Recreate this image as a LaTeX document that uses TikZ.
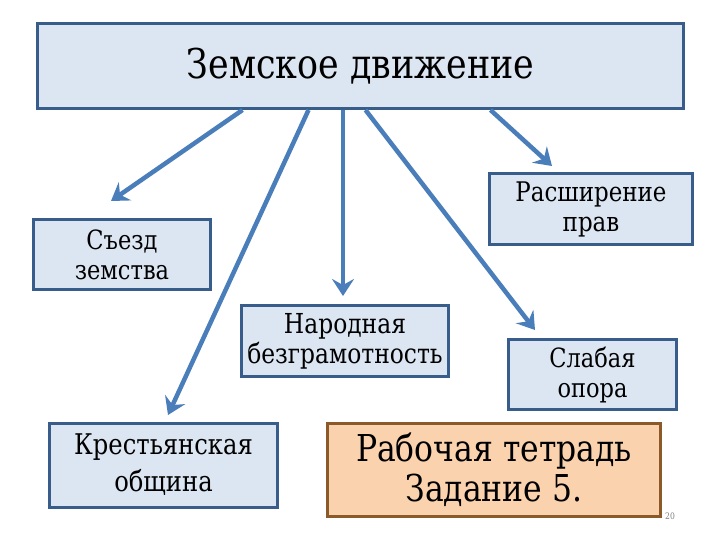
\documentclass[tikz,border=0pt]{standalone}
\usepackage{fontspec}
\setmainfont{DejaVu Serif}[FakeStretch=0.85]
\usetikzlibrary{arrows.meta}
\definecolor{boxfill}{HTML}{DCE6F2}
\definecolor{boxline}{HTML}{385D8A}
\definecolor{arrowblue}{HTML}{4A7EBB}
\definecolor{taskfill}{HTML}{FAD3AE}
\definecolor{taskline}{HTML}{8A5A28}
\begin{document}
\begin{tikzpicture}[
	x=1pt,
	y=-1pt,
	box/.style={draw=boxline, fill=boxfill, line width=3pt, inner sep=0pt,
		align=center, font=\fontsize{26.5}{30}\selectfont},
	task/.style={box, draw=taskline, fill=taskfill, font=\fontsize{37}{40}\selectfont},
	arr/.style={draw=arrowblue, line width=4.5pt,
		-{Stealth[length=17pt, width=22pt, inset=6pt]}}
	]
	\useasboundingbox[fill=white] (0,0) rectangle (720,540);

	% --- main box ---
	\node[box, minimum width=646pt, minimum height=85pt,
		font=\fontsize{41}{44}\selectfont] (zd) at (360.5,66) {Земское движение};

	% --- branches ---
	\node[box, minimum width=177pt, minimum height=70pt] (sz) at (122,254.5) {Съезд\\земства};
	\node[box, minimum width=203pt, minimum height=71pt,
		font=\fontsize{27}{30}\selectfont] (rp) at (591,209) {Расширение\\прав};
	\node[box, minimum width=207pt, minimum height=71pt,
		font=\fontsize{27.5}{30}\selectfont] (nb) at (345,341) {Народная\\безграмотность};
	\node[box, minimum width=168pt, minimum height=70pt] (so) at (592.5,374.5) {Слабая\\опора};
	\node[box, minimum width=228pt, minimum height=84pt,
		font=\fontsize{28.5}{37}\selectfont] (ko) at (163.5,465) {Крестьянская\\община};
	\node[task, minimum width=333pt, minimum height=93pt] (rt) at (494,469.5) {Рабочая тетрадь\\Задание 5.};
	\node[gray, font=\fontsize{9}{10}\selectfont] (pg) at (670,516) {20};

	% tips of the arrows
	\coordinate (t1) at (111,201);
	\coordinate (t2) at (168,415);
	\coordinate (t3) at (343,296);
	\coordinate (t4) at (535,330);
	\coordinate (t5) at (552,166);

	\draw[arr] ([xshift=-118pt]zd.south) -- (t1);
	\draw[arr] ([xshift=-52pt]zd.south) -- (t2);
	\draw[arr] ([xshift=-17.5pt]zd.south) -- (t3);
	\draw[arr] ([xshift=5pt]zd.south) -- (t4);
	\draw[arr] ([xshift=130pt]zd.south) -- (t5);
\end{tikzpicture}
\end{document}
